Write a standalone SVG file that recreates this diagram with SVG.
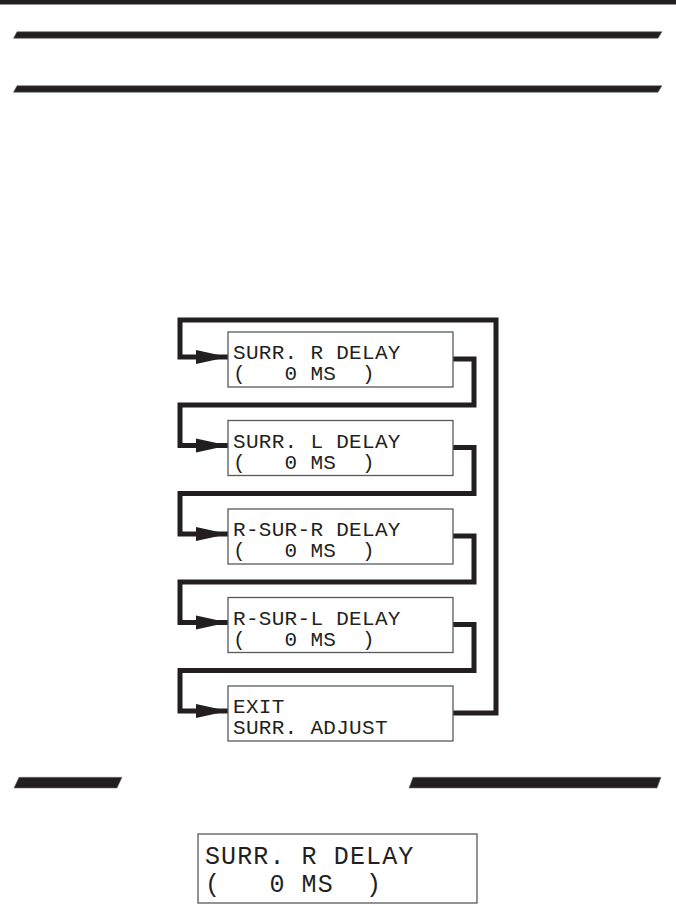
<svg xmlns="http://www.w3.org/2000/svg" width="676" height="906" viewBox="0 0 676 906">
<style>
.bar{fill:#231f20;stroke:#6d6e71;stroke-width:0.6}
.box{fill:#fff;stroke:#58595b;stroke-width:1.3}
.t{font-family:"Liberation Mono","DejaVu Sans Mono",monospace;font-size:21px;letter-spacing:0.3px;fill:#231f20}
.tb{font-family:"Liberation Mono","DejaVu Sans Mono",monospace;font-size:25px;letter-spacing:1.1px;fill:#231f20}
.wire{fill:none;stroke:#231f20;stroke-width:5;stroke-linejoin:miter;stroke-linecap:butt}
</style>
<defs>
<marker id="ah" markerUnits="userSpaceOnUse" markerWidth="34" markerHeight="16" refX="32" refY="8" orient="auto">
<path d="M0,1 L32,8 L0,15 Z" fill="#231f20"/>
</marker>
</defs>
<rect width="676" height="906" fill="#fff"/>
<rect x="0" y="0" width="676" height="4.5" fill="#231f20"/>
<g id="rules">
<polygon class="bar" points="17,31.7 662,31.7 658,38.3 13.5,38.3"/>
<polygon class="bar" points="17,85.7 662,85.7 658,92.3 13.5,92.3"/>
<polygon class="bar" points="19,777.3 122,777.3 117,788 14,788"/>
<polygon class="bar" points="413,777.3 661,777.3 657,788 409,788"/>
</g>
<g id="connectors">
<path class="wire" d="M453,359 H474 V405 H180 V445.5 H228" marker-end="url(#ah)"/>
<path class="wire" d="M453,447.5 H474 V493.5 H180 V534 H228" marker-end="url(#ah)"/>
<path class="wire" d="M453,536 H474 V582 H180 V622.5 H228" marker-end="url(#ah)"/>
<path class="wire" d="M453,624.5 H474 V670.5 H180 V711 H228" marker-end="url(#ah)"/>
<path class="wire" d="M453,713 H496 V320 H180 V357 H228" marker-end="url(#ah)"/>
</g>
<g id="node-surr-r">
<rect class="box" x="228" y="332" width="225" height="55"/>
<text class="t" x="233" y="359" xml:space="preserve">SURR. R DELAY</text>
<text class="t" x="233" y="380" xml:space="preserve">(   0 MS  )</text>
</g>
<g id="node-surr-l">
<rect class="box" x="228" y="420.5" width="225" height="55"/>
<text class="t" x="233" y="447.5" xml:space="preserve">SURR. L DELAY</text>
<text class="t" x="233" y="468.5" xml:space="preserve">(   0 MS  )</text>
</g>
<g id="node-rsur-r">
<rect class="box" x="228" y="509" width="225" height="55"/>
<text class="t" x="233" y="536" xml:space="preserve">R-SUR-R DELAY</text>
<text class="t" x="233" y="557" xml:space="preserve">(   0 MS  )</text>
</g>
<g id="node-rsur-l">
<rect class="box" x="228" y="597.5" width="225" height="55"/>
<text class="t" x="233" y="624.5" xml:space="preserve">R-SUR-L DELAY</text>
<text class="t" x="233" y="645.5" xml:space="preserve">(   0 MS  )</text>
</g>
<g id="node-exit">
<rect class="box" x="228" y="686" width="225" height="55"/>
<text class="t" x="233" y="713" xml:space="preserve">EXIT</text>
<text class="t" x="233" y="734" xml:space="preserve">SURR. ADJUST</text>
</g>
<g id="display">
<rect class="box" x="198" y="834" width="279" height="69"/>
<text class="tb" x="205" y="864" xml:space="preserve">SURR. R DELAY</text>
<text class="tb" x="205" y="892" xml:space="preserve">(   0 MS  )</text>
</g>
</svg>
